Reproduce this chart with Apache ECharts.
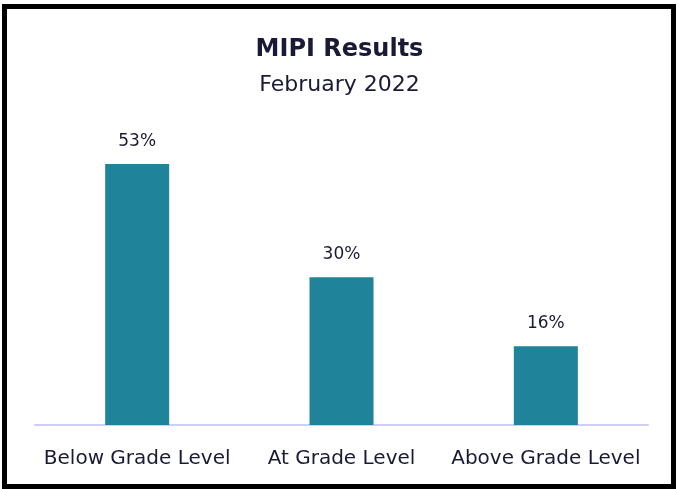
<!DOCTYPE html>
<html>
<head>
<meta charset="utf-8">
<script src="https://cdn.jsdelivr.net/npm/echarts@6/dist/echarts.min.js"></script>
<style>
  html, body { margin: 0; padding: 0; background: #fff; }
  #frame {
    position: absolute; left: 2px; top: 4px;
    width: 664px; height: 475px;
    border: 5px solid #000;
  }
  #chart { position: absolute; left: 0; top: 0; width: 679px; height: 489px; }
</style>
</head>
<body>
<div id="frame"></div>
<div id="chart"></div>
<script>
var categories = ['Below Grade Level', 'At Grade Level', 'Above Grade Level'];
var values = [53, 30, 16];
var valueLabels = ['53%', '30%', '16%'];

var textColor = '#1b1a36';
var fontName = 'DejaVu Sans';

var myChart = echarts.init(document.getElementById('chart'));
var option = {
    animation: false,
    title: {
        text: 'MIPI Results',
        subtext: 'February 2022',
        left: 'center',
        top: 33,
        itemGap: 12,
        textStyle: { fontFamily: fontName, fontWeight: 'bold', fontSize: 24, color: textColor },
        subtextStyle: { fontFamily: fontName, fontSize: 22, color: textColor }
    },
    grid: { left: 35, right: 31, top: 129.5, bottom: 64 },
    xAxis: {
        type: 'category',
        data: categories,
        axisLine: { lineStyle: { color: '#cfcdf3', width: 2 } },
        axisTick: { show: false },
        axisLabel: { interval: 0, fontFamily: fontName, fontSize: 20, color: textColor, margin: 24 }
    },
    yAxis: {
        type: 'value',
        min: 0,
        max: 60,
        show: false,
        splitLine: { show: false }
    },
    series: [{
        type: 'bar',
        data: values,
        barWidth: 64,
        itemStyle: { color: '#1f8399' },
        label: {
            show: true,
            position: 'top',
            distance: 14,
            fontFamily: fontName,
            fontSize: 17,
            color: textColor,
            formatter: function (p) { return valueLabels[p.dataIndex]; }
        }
    }]
};
myChart.setOption(option);
</script>
</body>
</html>
